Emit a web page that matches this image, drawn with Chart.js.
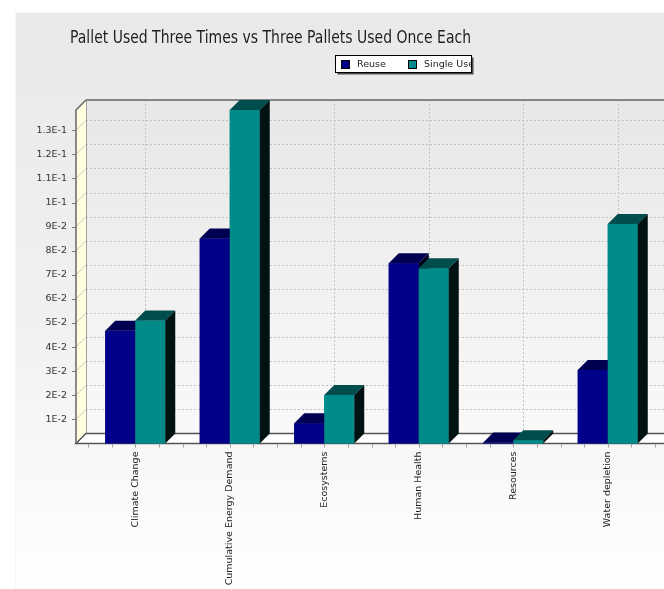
<!DOCTYPE html>
<html>
<head>
<meta charset="utf-8">
<title>Pallet Used Three Times vs Three Pallets Used Once Each</title>
<script src="https://cdn.jsdelivr.net/npm/chart.js@4"></script>
<style>
  html, body { margin: 0; padding: 0; background: #ffffff; overflow: hidden; }
  #wrap { width: 700px; height: 589px; }
</style>
</head>
<body>
<div id="wrap"><canvas id="chart" width="700" height="589"></canvas></div>
<script>
// Impact categories and results per functional unit
const categories = ['Climate Change', 'Cumulative Energy Demand', 'Ecosystems', 'Human Health', 'Resources', 'Water depletion'];
const reuse = [0.0468, 0.0851, 0.0084, 0.0748, 0.0004, 0.0305];
const singleUse = [0.0510, 0.1384, 0.0201, 0.0727, 0.0014, 0.0911];
const seriesNames = ['Reuse', 'Single Use'];

// Value axis ticks
const yTickValues = [0.01, 0.02, 0.03, 0.04, 0.05, 0.06, 0.07, 0.08, 0.09, 0.10, 0.11, 0.12, 0.13];
const yTickLabels = ['1E-2', '2E-2', '3E-2', '4E-2', '5E-2', '6E-2', '7E-2', '8E-2', '9E-2', '1E-1', '1.1E-1', '1.2E-1', '1.3E-1'];

const titleText = 'Pallet Used Three Times vs Three Pallets Used Once Each';

// Face colours for the extruded bars: front, top, side
const palette = [
  { front: '#000088', top: '#000052', side: '#00001c' },
  { front: '#008b8b', top: '#004d4d', side: '#001212' }
];

const DEPTH = 10;   // 3D offset of the back plane (right and up)
const MARGIN = 12;  // floor overhang beyond the first/last category

const cubePlugin = {
  id: 'cube',
  beforeDraw(chart) {
    const { ctx, chartArea: ca, width: W, height: H } = chart;
    const ys = chart.scales.y, xs = chart.scales.x;
    const fl = ca.left - MARGIN, fr = ca.right + MARGIN;
    const fb = ca.bottom, bb = ca.bottom - DEPTH, bt = ca.top - DEPTH;
    ctx.save();
    // page and panel
    ctx.fillStyle = '#ffffff';
    ctx.fillRect(0, 0, W, H);
    const pg = ctx.createLinearGradient(0, 12, 0, H);
    pg.addColorStop(0, '#e9e9e9');
    pg.addColorStop(0.55, '#f1f1f1');
    pg.addColorStop(1, '#ffffff');
    ctx.fillStyle = pg;
    ctx.fillRect(15, 12, W - 15, H - 12);
    ctx.strokeStyle = '#f7f7f7';
    ctx.lineWidth = 1;
    ctx.beginPath();
    ctx.moveTo(15.5, H); ctx.lineTo(15.5, 12.5); ctx.lineTo(W, 12.5);
    ctx.stroke();

    // back wall
    const wg = ctx.createLinearGradient(0, bt, 0, bb);
    wg.addColorStop(0, '#e7e7e7');
    wg.addColorStop(1, '#f9f9f9');
    ctx.fillStyle = wg;
    ctx.fillRect(fl + DEPTH, bt, fr - fl, bb - bt);

    // dashed grid on the back wall
    ctx.strokeStyle = '#c2c2c2';
    ctx.lineWidth = 1;
    ctx.setLineDash([2, 2]);
    yTickValues.forEach(v => {
      const y = Math.round(ys.getPixelForValue(v) - DEPTH) + 0.5;
      ctx.beginPath();
      ctx.moveTo(fl + DEPTH, y); ctx.lineTo(fr + DEPTH, y);
      ctx.stroke();
    });
    categories.forEach((c, i) => {
      const x = Math.round(xs.getPixelForValue(i) + DEPTH) + 0.5;
      ctx.beginPath();
      ctx.moveTo(x, bt); ctx.lineTo(x, bb);
      ctx.stroke();
    });
    ctx.setLineDash([]);

    // top edge of the back wall
    ctx.strokeStyle = '#858585';
    ctx.lineWidth = 2;
    ctx.beginPath();
    ctx.moveTo(fl + DEPTH, bt); ctx.lineTo(fr + DEPTH, bt);
    ctx.stroke();

    // left wall
    ctx.fillStyle = '#ffffe0';
    ctx.beginPath();
    ctx.moveTo(fl, fb); ctx.lineTo(fl, ca.top);
    ctx.lineTo(fl + DEPTH, bt); ctx.lineTo(fl + DEPTH, bb);
    ctx.closePath();
    ctx.fill();
    ctx.strokeStyle = '#c8c8c8';
    ctx.lineWidth = 1;
    yTickValues.forEach(v => {
      const y = ys.getPixelForValue(v);
      ctx.beginPath();
      ctx.moveTo(fl, y); ctx.lineTo(fl + DEPTH, y - DEPTH);
      ctx.stroke();
    });
    ctx.strokeStyle = '#a0a0a0';
    ctx.beginPath();
    ctx.moveTo(fl + DEPTH + 0.5, bt); ctx.lineTo(fl + DEPTH + 0.5, bb);
    ctx.stroke();
    ctx.strokeStyle = '#666666';
    ctx.lineWidth = 1.5;
    ctx.beginPath();
    ctx.moveTo(fl, fb); ctx.lineTo(fl, ca.top); ctx.lineTo(fl + DEPTH, bt);
    ctx.stroke();

    // value axis tick marks
    ctx.strokeStyle = '#777777';
    ctx.lineWidth = 1;
    yTickValues.forEach(v => {
      const y = Math.round(ys.getPixelForValue(v)) + 0.5;
      ctx.beginPath();
      ctx.moveTo(fl - 4, y); ctx.lineTo(fl, y);
      ctx.stroke();
    });

    // floor
    ctx.fillStyle = '#ffffff';
    ctx.beginPath();
    ctx.moveTo(fl, fb); ctx.lineTo(fr, fb);
    ctx.lineTo(fr + DEPTH, bb); ctx.lineTo(fl + DEPTH, bb);
    ctx.closePath();
    ctx.fill();
    ctx.strokeStyle = '#555555';
    ctx.lineWidth = 1.5;
    ctx.beginPath();
    ctx.moveTo(fr + DEPTH, bb); ctx.lineTo(fl + DEPTH, bb); ctx.lineTo(fl, fb); ctx.lineTo(fr, fb);
    ctx.stroke();

    // category axis minor ticks (quarter steps)
    ctx.strokeStyle = '#9a9a9a';
    ctx.lineWidth = 1;
    const step = (ca.right - ca.left) / (categories.length * 4);
    for (let k = 0; k <= categories.length * 4; k++) {
      const x = Math.round(ca.left + k * step) + 0.5;
      ctx.beginPath();
      ctx.moveTo(x, fb + 1); ctx.lineTo(x, fb + 4);
      ctx.stroke();
    }
    ctx.restore();
  },
  afterDatasetsDraw(chart) {
    const ctx = chart.ctx;
    ctx.save();
    categories.forEach((c, i) => {
      chart.data.datasets.forEach((ds, d) => {
        const el = chart.getDatasetMeta(d).data[i];
        const col = palette[d];
        const l = el.x - el.width / 2, r = el.x + el.width / 2;
        const t = el.y, b = el.base;
        // front
        ctx.fillStyle = col.front;
        ctx.fillRect(l, t, r - l, b - t);
        // top
        ctx.fillStyle = col.top;
        ctx.beginPath();
        ctx.moveTo(l, t); ctx.lineTo(l + DEPTH, t - DEPTH);
        ctx.lineTo(r + DEPTH, t - DEPTH); ctx.lineTo(r, t);
        ctx.closePath();
        ctx.fill();
        // side
        ctx.fillStyle = col.side;
        ctx.beginPath();
        ctx.moveTo(r, t); ctx.lineTo(r + DEPTH, t - DEPTH);
        ctx.lineTo(r + DEPTH, b - DEPTH); ctx.lineTo(r, b);
        ctx.closePath();
        ctx.fill();
      });
    });
    ctx.restore();
  },
  afterDraw(chart) {
    const ctx = chart.ctx;
    ctx.save();
    // title, fitted to its width
    ctx.font = '17px "DejaVu Sans", sans-serif';
    ctx.fillStyle = '#1e1e1e';
    ctx.textBaseline = 'alphabetic';
    ctx.textAlign = 'left';
    const tw = ctx.measureText(titleText).width;
    const targetW = 401;
    ctx.translate(70, 43);
    ctx.scale(targetW / tw, 1.06);
    ctx.fillText(titleText, 0, 0);
    ctx.restore();

    // legend box
    ctx.save();
    const bx = 335.5, by = 55.5, bw = 136, bh = 17;
    ctx.fillStyle = '#4a4a4a';
    ctx.fillRect(bx + 2, by + 2, bw, bh);
    ctx.fillStyle = '#ffffff';
    ctx.fillRect(bx, by, bw, bh);
    ctx.strokeStyle = '#000000';
    ctx.lineWidth = 1;
    ctx.strokeRect(bx, by, bw, bh);
    ctx.beginPath();
    ctx.rect(bx + 0.5, by + 0.5, bw - 1, bh - 1);
    ctx.clip();
    const items = [{ x: 341, tx: 357 }, { x: 408, tx: 424 }];
    ctx.font = '9.5px "DejaVu Sans"';
    ctx.textBaseline = 'middle';
    items.forEach((it, d) => {
      ctx.fillStyle = palette[d].front;
      ctx.fillRect(it.x, 60, 9, 9);
      ctx.strokeStyle = '#000000';
      ctx.strokeRect(it.x + 0.5, 60.5, 8, 8);
      ctx.fillStyle = '#222222';
      ctx.fillText(seriesNames[d], it.tx, 64.5);
    });
    ctx.restore();
  }
};

new Chart(document.getElementById('chart'), {
  type: 'bar',
  data: {
    labels: categories,
    datasets: [
      { label: seriesNames[0], data: reuse, backgroundColor: palette[0].front, borderWidth: 0 },
      { label: seriesNames[1], data: singleUse, backgroundColor: palette[1].front, borderWidth: 0 }
    ]
  },
  options: {
    responsive: false,
    animation: false,
    devicePixelRatio: 1,
    layout: { autoPadding: false, padding: { left: 0, top: 110, right: 45, bottom: 0 } },
    datasets: { bar: { categoryPercentage: 0.635, barPercentage: 1.0 } },
    plugins: { legend: { display: false }, title: { display: false }, tooltip: { enabled: false } },
    scales: {
      x: {
        offset: true,
        grid: { display: false, drawTicks: false },
        border: { display: false },
        ticks: {
          autoSkip: false,
          minRotation: 90,
          maxRotation: 90,
          padding: 8,
          color: '#222222',
          font: { family: 'DejaVu Sans', size: 9.5 }
        },
        afterFit(scale) { scale.height = 145.5; }
      },
      y: {
        min: 0,
        max: Math.max(...reuse, ...singleUse),
        grid: { display: false, drawTicks: false },
        border: { display: false },
        afterBuildTicks(scale) { scale.ticks = yTickValues.map(v => ({ value: v })); },
        ticks: {
          padding: 21,
          color: '#333333',
          font: { family: 'DejaVu Sans', size: 9.5 },
          callback: (value, index) => yTickLabels[index]
        },
        afterFit(scale) { scale.width = 88; }
      }
    }
  },
  plugins: [cubePlugin]
});
</script>
</body>
</html>
